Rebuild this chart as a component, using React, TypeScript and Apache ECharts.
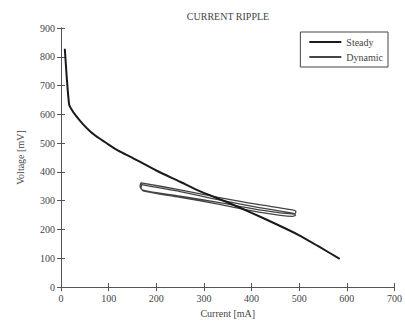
import React, { useEffect, useRef } from "react";
import * as echarts from "echarts";

const steadyCurrent = [8, 12, 17, 22, 30, 46, 62, 81, 100, 120, 150, 200, 250, 290, 350, 400, 450, 500, 540, 585];
const steadyVoltage = [828, 730, 635, 618, 598, 566, 540, 516, 495, 474, 449, 405, 366, 334, 294, 258, 220, 180, 142, 98];

const dynamicCurrent = [168, 250, 330, 410, 486, 493, 490, 410, 330, 250, 172, 166, 168, 170, 250, 330, 410, 488, 492, 486, 410, 330, 250, 174, 168, 170];
const dynamicVoltage = [362, 338, 312, 288, 268, 262, 254, 270, 294, 316, 337, 350, 362, 356, 332, 304, 278, 256, 250, 246, 262, 288, 312, 333, 345, 356];

const xTicks = { min: 0, max: 700, interval: 100 };
const yTicks = { min: 0, max: 900, interval: 100 };

const FONT = "Liberation Serif";

export default function App() {
  const ref = useRef<HTMLDivElement>(null);
  useEffect(() => {
    if (!ref.current) return;
    const chart = echarts.init(ref.current, undefined, { renderer: "svg" });
    const steady = steadyCurrent.map((x, i) => [x, steadyVoltage[i]]);
    const dynamic = dynamicCurrent.map((x, i) => [x, dynamicVoltage[i]]);
    const axisCommon = {
      axisLine: { show: true, lineStyle: { color: "#555", width: 1 } },
      axisTick: { show: true, inside: true, length: 4, lineStyle: { color: "#555" } },
      splitLine: { show: false },
    };
    chart.setOption({
      animation: false,
      backgroundColor: "#fff",
      textStyle: { fontFamily: FONT },
      title: {
        text: "CURRENT RIPPLE",
        left: 228,
        textAlign: "center",
        top: 11,
        padding: 0,
        textStyle: { fontFamily: FONT, fontSize: 10, fontWeight: "normal", color: "#444" },
      },
      grid: { left: 61, right: 8, top: 28, bottom: 33, show: false },
      legend: {
        orient: "vertical",
        right: 17,
        top: 32,
        padding: [5, 5, 5, 8],
        borderColor: "#444",
        borderWidth: 1,
        backgroundColor: "#fff",
        itemWidth: 32,
        itemHeight: 10,
        itemGap: 5,
        itemStyle: { opacity: 0, borderWidth: 0 },
        textStyle: { fontFamily: FONT, fontSize: 10, color: "#444" },
        data: ["Steady", "Dynamic"],
      },
      xAxis: [
        {
          type: "value",
          ...xTicks,
          ...axisCommon,
          name: "Current [mA]",
          nameLocation: "middle",
          nameGap: 18,
          nameTextStyle: { fontFamily: FONT, fontSize: 10, color: "#444" },
          axisLabel: { fontFamily: FONT, fontSize: 10, color: "#444", margin: 6 },
        },
        {
          type: "value",
          position: "top",
          ...xTicks,
          ...axisCommon,
          axisLabel: { show: false },
        },
      ],
      yAxis: [
        {
          type: "value",
          ...yTicks,
          ...axisCommon,
          name: "Voltage [mV]",
          nameLocation: "middle",
          nameGap: 36,
          nameTextStyle: { fontFamily: FONT, fontSize: 10, color: "#444" },
          axisLabel: { fontFamily: FONT, fontSize: 10, color: "#444", margin: 6 },
        },
        {
          type: "value",
          position: "right",
          ...yTicks,
          ...axisCommon,
          axisLabel: { show: false },
        },
      ],
      series: [
        {
          name: "Steady",
          type: "line",
          data: steady,
          symbol: "none",
          smooth: 0.2,
          lineStyle: { color: "#1a1a1a", width: 2 },
          itemStyle: { color: "#1a1a1a" },
          z: 3,
        },
        {
          name: "Dynamic",
          type: "line",
          data: dynamic,
          symbol: "none",
          smooth: 0.3,
          lineStyle: { color: "#444", width: 1.3 },
          itemStyle: { color: "#444" },
          z: 2,
        },
      ],
    });
    return () => chart.dispose();
  }, []);
  return <div ref={ref} style={{ width: 405, height: 323, position: "absolute", left: 0, top: 0 }} />;
}
